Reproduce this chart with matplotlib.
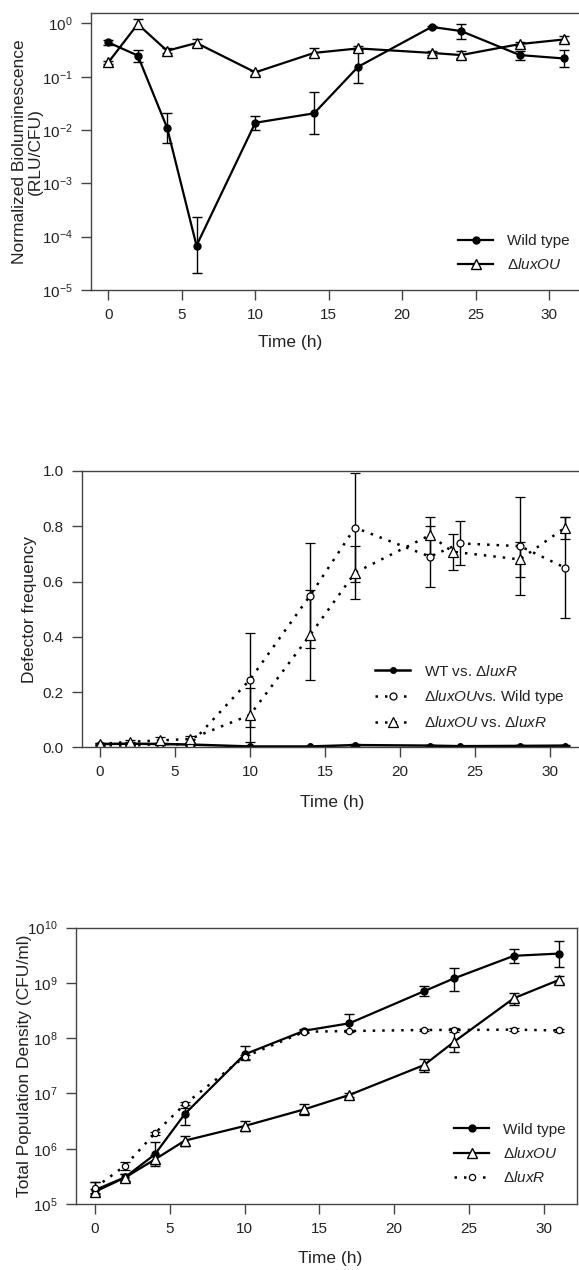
import matplotlib
matplotlib.use("Agg")
import matplotlib.pyplot as plt
import numpy as np

plt.rcParams["font.family"] = ["Liberation Sans", "DejaVu Sans"]
plt.rcParams["mathtext.fontset"] = "custom"
plt.rcParams["mathtext.rm"] = "Liberation Sans"
plt.rcParams["mathtext.it"] = "Liberation Sans:italic"
plt.rcParams["mathtext.default"] = "regular"

# ---------------- data ----------------
time_h = [0, 2, 4, 6, 10, 14, 17, 22, 24, 28, 31]
time_h_b = [0, 2, 4, 6, 10, 14, 17, 22, 23.5, 28, 31]

# panel A: normalized bioluminescence
wt_lum = [0.44, 0.25, 0.011, 6.8e-5, 0.0137, 0.0206, 0.154, 0.86, 0.72, 0.255, 0.22]
wt_lum_lo = [0.40, 0.19, 0.0056, 2.05e-5, 0.010, 0.0083, 0.075, 0.82, 0.52, 0.21, 0.154]
wt_lum_hi = [0.48, 0.32, 0.021, 2.3e-4, 0.0186, 0.051, 0.33, 0.90, 0.97, 0.31, 0.32]
ou_lum = [0.186, 0.97, 0.307, 0.43, 0.121, 0.28, 0.34, 0.28, 0.255, 0.41, 0.50]
ou_lum_lo = [0.17, 0.83, 0.28, 0.38, 0.11, 0.23, 0.32, 0.26, 0.22, 0.38, 0.44]
ou_lum_hi = [0.20, 1.2, 0.34, 0.50, 0.13, 0.35, 0.37, 0.30, 0.30, 0.45, 0.58]

# panel B: defector frequency
wt_vs_r = [0.012, 0.013, 0.012, 0.010, 0.003, 0.003, 0.008, 0.006, 0.004, 0.005, 0.006]
wt_vs_r_err = [0.004, 0.005, 0.004, 0.003, 0.002, 0.002, 0.003, 0.003, 0.002, 0.003, 0.003]
ou_vs_wt = [0.008, 0.006, 0.012, 0.010, 0.245, 0.549, 0.795, 0.69, 0.738, 0.728, 0.65]
ou_vs_wt_err = [0.004, 0.004, 0.005, 0.005, 0.17, 0.19, 0.197, 0.11, 0.08, 0.177, 0.183]
ou_vs_r = [0.012, 0.02, 0.025, 0.03, 0.117, 0.406, 0.632, 0.768, 0.708, 0.68, 0.795]
ou_vs_r_err = [0.004, 0.008, 0.012, 0.012, 0.097, 0.163, 0.096, 0.067, 0.065, 0.063, 0.04]

# panel C: total population density
wt_cfu = [1.79e5, 3.04e5, 7.9e5, 4.25e6, 5.1e7, 1.37e8, 1.86e8, 7.1e8, 1.21e9, 3.1e9, 3.4e9]
wt_cfu_lo = [1.4e5, 2.6e5, 4.9e5, 2.7e6, 4.0e7, 1.3e8, 1.35e8, 5.8e8, 7.1e8, 2.3e9, 1.96e9]
wt_cfu_hi = [2.5e5, 3.5e5, 1.33e6, 6.2e6, 7.2e7, 1.45e8, 2.7e8, 8.7e8, 1.89e9, 4.2e9, 5.8e9]
ou_cfu = [1.67e5, 3.0e5, 6.4e5, 1.4e6, 2.58e6, 5.17e6, 9.4e6, 3.27e7, 8.6e7, 5.3e8, 1.13e9]
ou_cfu_lo = [1.5e5, 2.6e5, 5.4e5, 1.1e6, 2.12e6, 4.1e6, 8.6e6, 2.4e7, 5.7e7, 4.0e8, 1.0e9]
ou_cfu_hi = [1.85e5, 3.5e5, 7.6e5, 1.7e6, 3.2e6, 6.5e6, 1.02e7, 4.2e7, 1.45e8, 6.5e8, 1.35e9]
r_cfu = [1.97e5, 4.9e5, 1.9e6, 6.4e6, 4.6e7, 1.31e8, 1.35e8, 1.41e8, 1.41e8, 1.43e8, 1.38e8]
r_cfu_lo = [1.6e5, 4.1e5, 1.8e6, 5.5e6, 4.2e7, 1.25e8, 1.28e8, 1.35e8, 1.3e8, 1.35e8, 1.3e8]
r_cfu_hi = [2.5e5, 5.8e5, 2.05e6, 7.1e6, 5.0e7, 1.38e8, 1.42e8, 1.48e8, 1.53e8, 1.52e8, 1.46e8]

x_ticks = [0, 5, 10, 15, 20, 25, 30]

TXT = "#222222"
W, H = 579, 1270


def px_axes(fig, left, top, right, bottom):
    """axes placed by pixel edges"""
    return fig.add_axes([left / W, 1 - bottom / H, (right - left) / W, (bottom - top) / H])


def asym(vals, lo, hi):
    v = np.array(vals)
    return [v - np.array(lo), np.array(hi) - v]


def style_axes(ax, right_spine=True):
    ax.spines["right"].set_visible(right_spine)
    for s in ax.spines.values():
        s.set_color("#444444")
        s.set_linewidth(1.0)
    ax.tick_params(direction="out", length=7, width=1.0, color="#444444",
                   labelsize=11, labelcolor=TXT, pad=6)
    ax.tick_params(which="minor", length=0)
    ax.set_xticks(x_ticks)


def add_legend(ax, x, y):
    # legend handles: line + marker only, no error bars
    handles, labels = ax.get_legend_handles_labels()
    handles = [h[0] for h in handles]
    leg = ax.legend(handles, labels, loc="center left", bbox_to_anchor=(x / W, 1 - y / H),
                    bbox_transform=fig.transFigure, frameon=False, fontsize=11,
                    handlelength=2.3, handletextpad=0.9, labelspacing=0.6, borderpad=0,
                    borderaxespad=0)
    for t in leg.get_texts():
        t.set_color(TXT)
    return leg


fig = plt.figure(figsize=(W / 100, H / 100), dpi=100)

eb = dict(capsize=3.5, elinewidth=1.0, capthick=1.0, ecolor="black")

# ---------------- panel A ----------------
ax1 = px_axes(fig, 90.7, 13.3, 583, 290)
ax1.errorbar(time_h, wt_lum, yerr=asym(wt_lum, wt_lum_lo, wt_lum_hi), color="black",
             lw=1.6, marker="o", ms=5, mfc="black", label="Wild type", **eb)
ax1.errorbar(time_h, ou_lum, yerr=asym(ou_lum, ou_lum_lo, ou_lum_hi), color="black",
             lw=1.6, marker="^", ms=7, mfc="white", mew=1.0, label=r"$\Delta\mathit{luxOU}$", **eb)
ax1.set_yscale("log")
ax1.set_ylim(1e-5, 10 ** 0.19)
ax1.set_xlim(-1.2, 32.3)
style_axes(ax1, right_spine=False)
ax1.set_yticks([1e-5, 1e-4, 1e-3, 1e-2, 1e-1, 1e0])
ax1.set_ylabel("Normalized Bioluminescence\n(RLU/CFU)", fontsize=12.5, color=TXT,
               linespacing=1.05)
ax1.yaxis.set_label_coords(-0.098, 0.5)
fig.text(290 / W, 1 - 343 / H, "Time (h)", ha="center", va="center", fontsize=12.5, color=TXT)
add_legend(ax1, 458, 253)

# ---------------- panel B ----------------
ax2 = px_axes(fig, 81.7, 471, 584.5, 747.3)
ax2.errorbar(time_h, wt_vs_r, yerr=wt_vs_r_err, color="black", lw=1.8, marker="o", ms=4,
             mfc="black", label=r"WT vs. $\Delta\mathit{luxR}$", **eb)
ax2.errorbar(time_h, ou_vs_wt, yerr=ou_vs_wt_err, color="black", lw=1.8, ls=(0, (1, 2.8)),
             marker="o", ms=5, mfc="white", mew=0.9, label=r"$\Delta\mathit{luxOU}$vs. Wild type", **eb)
ax2.errorbar(time_h_b, ou_vs_r, yerr=ou_vs_r_err, color="black", lw=1.8, ls=(0, (1, 2.8)),
             marker="^", ms=7.5, mfc="white", mew=0.9, label=r"$\Delta\mathit{luxOU}$ vs. $\Delta\mathit{luxR}$", **eb)
ax2.set_ylim(0, 1.0)
ax2.set_xlim(-1.22, 32.3)
style_axes(ax2, right_spine=False)
ax2.set_yticks([0.0, 0.2, 0.4, 0.6, 0.8, 1.0])
ax2.set_yticklabels(["0.0", "0.2", "0.4", "0.6", "0.8", "1.0"])
ax2.set_ylabel("Defector frequency", fontsize=12.5, color=TXT)
ax2.yaxis.set_label_coords(-0.088, 0.5)
fig.text(332 / W, 1 - 802 / H, "Time (h)", ha="center", va="center", fontsize=12.5, color=TXT)
add_legend(ax2, 375, 697)

# ---------------- panel C ----------------
ax3 = px_axes(fig, 76, 927.7, 576.7, 1204)
ax3.errorbar(time_h, wt_cfu, yerr=asym(wt_cfu, wt_cfu_lo, wt_cfu_hi), color="black",
             lw=1.6, marker="o", ms=5, mfc="black", label="Wild type", **eb)
ax3.errorbar(time_h, ou_cfu, yerr=asym(ou_cfu, ou_cfu_lo, ou_cfu_hi), color="black",
             lw=1.6, marker="^", ms=7, mfc="white", mew=1.0, label=r"$\Delta\mathit{luxOU}$", **eb)
ax3.errorbar(time_h, r_cfu, yerr=asym(r_cfu, r_cfu_lo, r_cfu_hi), color="black",
             lw=1.8, ls=(0, (1, 2.8)), marker="o", ms=4.5, mfc="white", mew=0.9,
             label=r"$\Delta\mathit{luxR}$", **eb)
ax3.set_yscale("log")
ax3.set_ylim(1e5, 1e10)
ax3.set_xlim(-1.27, 32.2)
style_axes(ax3, right_spine=True)
ax3.set_yticks([1e5, 1e6, 1e7, 1e8, 1e9, 1e10])
ax3.set_ylabel("Total Population Density (CFU/ml)", fontsize=12.5, color=TXT)
ax3.yaxis.set_label_coords(-0.088, 0.5)
fig.text(330 / W, 1 - 1258 / H, "Time (h)", ha="center", va="center", fontsize=12.5, color=TXT)
add_legend(ax3, 454, 1154)

fig.savefig("out.png", dpi=100)
